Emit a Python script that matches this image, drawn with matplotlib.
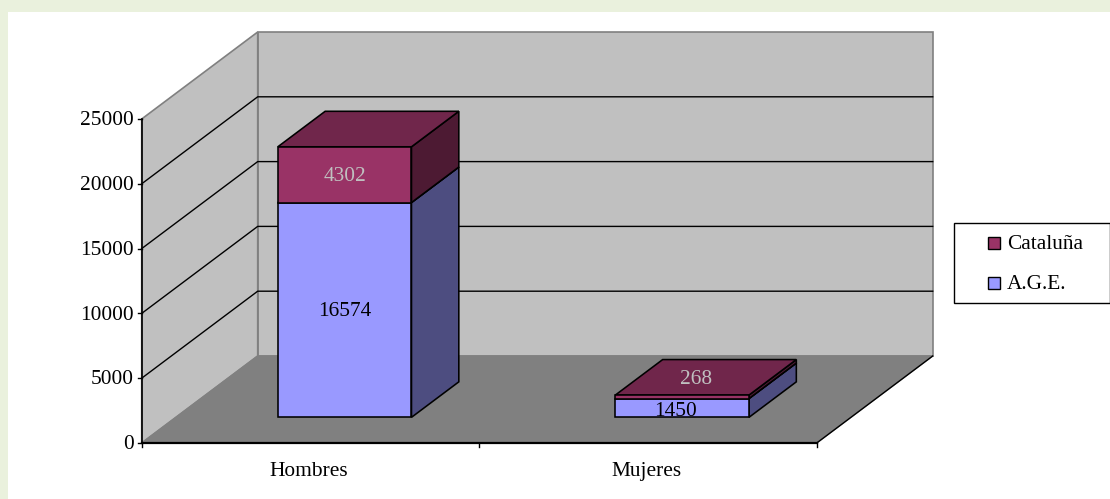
import matplotlib
matplotlib.use("Agg")
from matplotlib import pyplot as plt
from matplotlib.patches import Polygon, Rectangle

categories = ["Hombres", "Mujeres"]
age_values = [16574, 1450]
cataluna_values = [4302, 268]
y_ticks = [0, 5000, 10000, 15000, 20000, 25000]

# pixels of the oblique projection
X0, Y0 = 141.7, 443
CAT_W = 337.5
V_SCALE = 0.01296
DX, DY = 116, 87
BAR_W = 0.396
Z0, Z1 = 0.295, 0.703
FS = 15.4
TXT_DY = 1.8  # va="center" sits a bit high with this font

AGE_COLORS = ("#9999FF", "#4D4D80", "#4D4D80")
CAT_COLORS = ("#993366", "#4D1A33", "#70264B")


def proj(x, v, z=0.0):
    return X0 + x * CAT_W + z * DX, Y0 - v * V_SCALE - z * DY


def poly(ax, pts, color, edge="black", lw=1.15, zorder=2):
    ax.add_patch(Polygon([proj(*p) for p in pts], closed=True, facecolor=color,
                         edgecolor=edge, linewidth=lw, joinstyle="miter", zorder=zorder))


def box(ax, x0, x1, v0, v1, colors, zorder):
    front, side, top = colors
    poly(ax, [(x1, v0, Z0), (x1, v0, Z1), (x1, v1, Z1), (x1, v1, Z0)], side, zorder=zorder)
    poly(ax, [(x0, v1, Z0), (x1, v1, Z0), (x1, v1, Z1), (x0, v1, Z1)], top, zorder=zorder)
    poly(ax, [(x0, v0, Z0), (x1, v0, Z0), (x1, v1, Z0), (x0, v1, Z0)], front, zorder=zorder)


fig = plt.figure(figsize=(11.10, 4.99), dpi=100, facecolor="#EAF1DD")
ax = fig.add_axes([0, 0, 1, 1])
ax.set_xlim(0, 1110)
ax.set_ylim(499, 0)
ax.axis("off")
plt.rcParams["font.family"] = ["Liberation Serif", "DejaVu Serif"]

ax.add_patch(Rectangle((8, 12), 1102, 487, facecolor="white", edgecolor="none", zorder=0))

n = len(categories)
top = y_ticks[-1]

# walls and floor
poly(ax, [(0, 0, 1), (n, 0, 1), (n, top, 1), (0, top, 1)], "#C0C0C0", edge="#808080", lw=1.2, zorder=1)
poly(ax, [(0, 0, 0), (0, 0, 1), (0, top, 1), (0, top, 0)], "#C0C0C0", edge="#808080", lw=1.2, zorder=1)
poly(ax, [(0, 0, 0), (n, 0, 0), (n, 0, 1), (0, 0, 1)], "#808080", edge="#808080", lw=1.0, zorder=1)

# floor edge on the right side is black
ax.plot(*zip(proj(n, 0, 0), proj(n, 0, 1)), color="black", lw=1.0, zorder=1.5)

# gridlines
for v in y_ticks[1:-1]:
    ax.plot(*zip(proj(0, v, 0), proj(0, v, 1), proj(n, v, 1)), color="black", lw=1.0, zorder=1.5)

# axes lines and ticks
ax.plot(*zip(proj(0, 0), proj(0, top)), color="black", lw=1.2, zorder=3)
ax.plot(*zip(proj(0, 0), proj(n, 0)), color="black", lw=1.6, zorder=3)
for v in y_ticks:
    x, y = proj(0, v)
    ax.plot([x - 4, x], [y, y], color="black", lw=1.0, zorder=3)
    ax.text(x - 8, y + TXT_DY, str(v), ha="right", va="center", fontsize=FS, color="black")
for i in range(n + 1):
    x, y = proj(i, 0)
    ax.plot([x, x], [y, y + 4], color="black", lw=1.0, zorder=3)

# stacked boxes
for i, cat in enumerate(categories):
    x0 = i + 0.5 - BAR_W / 2
    x1 = i + 0.5 + BAR_W / 2
    age = age_values[i]
    cat_v = cataluna_values[i]
    box(ax, x0, x1, 0, age, AGE_COLORS, 4 + i)
    box(ax, x0, x1, age, age + cat_v, CAT_COLORS, 4.5 + i)

    x, y = proj(i + 0.5, 0, 0)
    ax.text(x - 1.5, y + 27 + TXT_DY, cat, ha="center", va="center", fontsize=FS, color="black")

x, y = proj(0.5, age_values[0] / 2, Z0)
ax.text(x, y + TXT_DY, str(age_values[0]), ha="center", va="center", fontsize=FS, color="black", zorder=8)
x, y = proj(1.5, age_values[1] / 2, Z0)
ax.text(x - 7, y + 2 + TXT_DY, str(age_values[1]), ha="center", va="center", fontsize=FS, color="black", zorder=8)
x, y = proj(0.5, age_values[0] + cataluna_values[0] / 2, Z0)
ax.text(x, y + TXT_DY, str(cataluna_values[0]), ha="center", va="center", fontsize=FS, color="#C0C0C0", zorder=8)
x, y = proj(1.5, age_values[1] + cataluna_values[1], (Z0 + Z1) / 2)
ax.text(x - 10, y + TXT_DY, str(cataluna_values[1]), ha="center", va="center", fontsize=FS, color="#C0C0C0", zorder=8)

# legend
ax.add_patch(Rectangle((954, 223), 156, 80, facecolor="white", edgecolor="black", lw=1.0, zorder=3))
for label, color, ly in [("Cataluña", CAT_COLORS[0], 243), ("A.G.E.", AGE_COLORS[0], 282.5)]:
    ax.add_patch(Rectangle((988, ly - 6), 12, 12, facecolor=color, edgecolor="black", lw=1.0, zorder=4))
    ax.text(1007, ly + TXT_DY, label, ha="left", va="center", fontsize=FS, color="black", zorder=4)

fig.savefig("out.png", dpi=100, facecolor=fig.get_facecolor())
